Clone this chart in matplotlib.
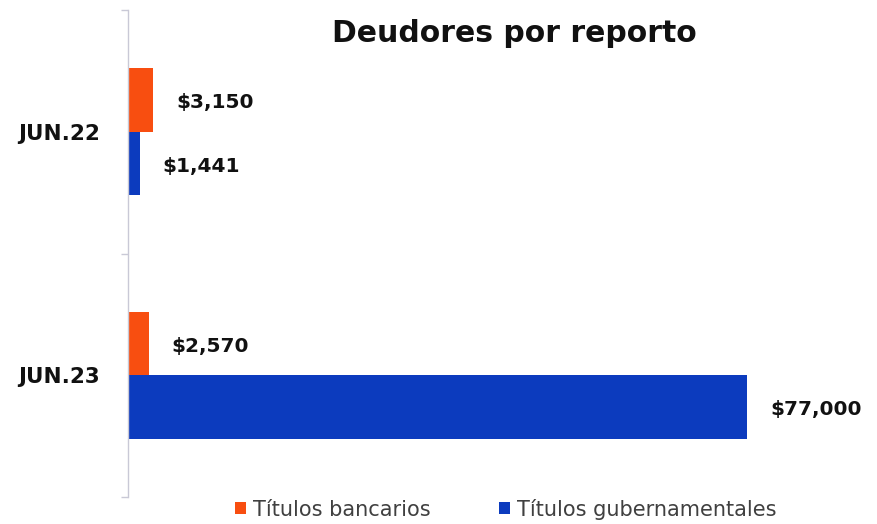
import matplotlib
matplotlib.use("Agg")
import matplotlib.pyplot as plt
import numpy as np

categories = ["JUN.22", "JUN.23"]
series_names = ["Títulos bancarios", "Títulos gubernamentales"]
bancarios = [3150, 2570]
gubernamentales = [1441, 77000]
value_labels_banc = ["$3,150", "$2,570"]
value_labels_gub = ["$1,441", "$77,000"]

c_orange = "#F84E10"
c_blue = "#0C3BBE"

fig = plt.figure(figsize=(8.77, 5.24), dpi=100)
ax = fig.add_axes([128/877, 27/524, (860-128)/877, 487/524])

y = np.arange(len(categories))
h = 0.26
b1 = ax.barh(y - h/2, bancarios, height=h, color=c_orange, label=series_names[0])
b2 = ax.barh(y + h/2, gubernamentales, height=h, color=c_blue, label=series_names[1])

ax.set_xlim(0, 91000)
ax.set_ylim(1.5, -0.5)

for bars, labs in ((b1, value_labels_banc), (b2, value_labels_gub)):
    for rect, lab in zip(bars, labs):
        ax.annotate(lab, (rect.get_width(), rect.get_y() + rect.get_height()/2),
                    xytext=(16.5, -2), textcoords="offset points",
                    ha="left", va="center", fontsize=14.5, fontweight="bold",
                    color="#111111", family="DejaVu Sans")

for s in ("top", "right", "bottom"):
    ax.spines[s].set_visible(False)
ax.spines["left"].set_color("#C9C9D6")
ax.spines["left"].set_linewidth(1.0)
ax.set_xticks([])
ax.set_yticks([-0.5, 0.5, 1.5], minor=False)
ax.set_yticklabels([])
ax.tick_params(axis="y", length=5, color="#C9C9D6", width=1)
ax.set_yticks(y, minor=True)
ax.set_yticklabels(categories, minor=True, fontsize=15.5, fontweight="bold", color="#111111")
ax.tick_params(axis="y", which="minor", length=0, pad=20)

fig.text(0.587, 0.937, "Deudores por reporto", ha="center", va="center",
         fontsize=21.5, fontweight="bold", color="#111111")

leg = fig.legend(handles=[b1, b2], labels=series_names, loc="center",
                 bbox_to_anchor=(0.577, 0.028), ncol=2, frameon=False,
                 handlelength=0.5, handleheight=0.5, handletextpad=0.35,
                 columnspacing=3.3, fontsize=15)
for t in leg.get_texts():
    t.set_color("#404040")

fig.savefig("out.png", dpi=100)
